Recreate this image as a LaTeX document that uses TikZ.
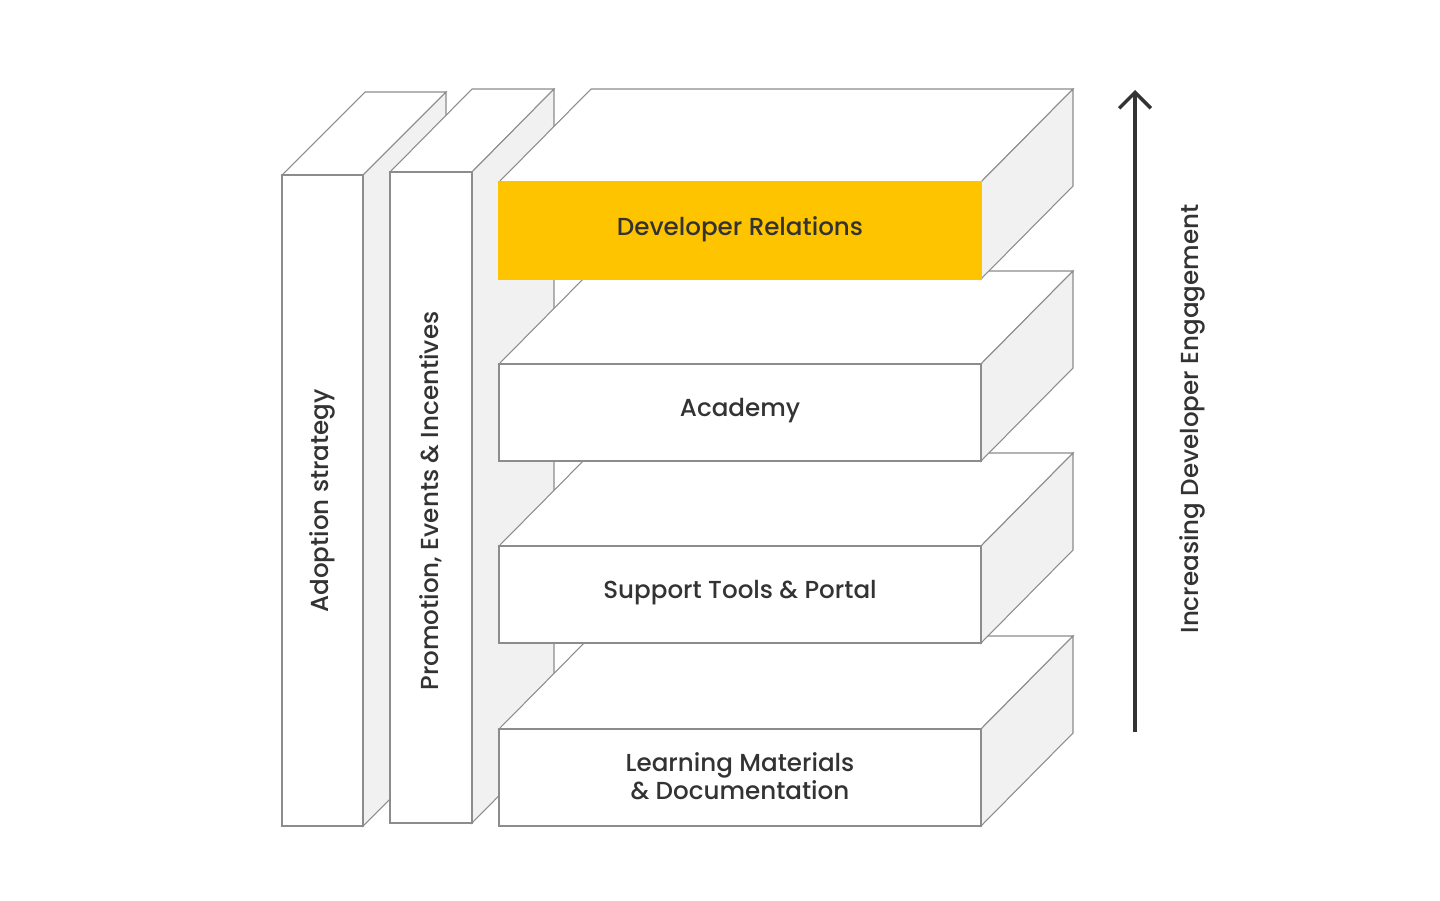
\documentclass[tikz,border=0pt]{standalone}
\usepackage{fontspec}
\setmainfont{Poppins Medium}
\usetikzlibrary{arrows.meta}
\definecolor{edgegray}{HTML}{8C8C8C}
\definecolor{sidegray}{HTML}{F1F1F1}
\definecolor{devyellow}{HTML}{FFC400}
\definecolor{inkdark}{HTML}{333333}
\tikzset{
  edge/.style={draw=edgegray, line width=0.6pt, line join=miter},
  label/.style={text=inkdark, font=\fontsize{14}{16}\selectfont, align=center},
}

\begin{document}
\begin{tikzpicture}[x=0.02cm, y=-0.02cm]
\useasboundingbox (0,0) rectangle (1440,900);

% two pillars on the left
\foreach \xa/\xb/\ya/\yb/\d/\name/\txt in {282/363/175/826/83/adopt/Adoption strategy,
    390/472/172/823/82/promo/{Promotion, Events \& Incentives}} {
    \path[edge, fill=white] (\xa,\ya) -- (\xa+\d,\ya-83) -- (\xb+\d,\ya-83) -- (\xb,\ya) -- cycle;
    \path[edge, fill=sidegray] (\xb,\ya) -- (\xb+\d,\ya-83) -- (\xb+\d,\yb-83) -- (\xb,\yb) -- cycle;
    \path[edge, fill=white] (\xa,\ya) rectangle (\xb,\yb);
    \node[label, rotate=90] (\name) at ({(\xa+\xb)/2},501) {\txt};
}

% stacked layers, bottom first
\foreach \t/\fillc/\drawc/\name/\txt in {729/white/edgegray/learn/{Learning Materials\\\& Documentation},
    546/white/edgegray/support/{Support Tools \& Portal},
    364/white/edgegray/academy/Academy,
    182/devyellow/devyellow/devrel/Developer Relations} {
    \path[edge, fill=white] (499,\t) -- (591,\t-93) -- (1073,\t-93) -- (981,\t) -- cycle;
    \path[edge, fill=sidegray] (981,\t) -- (1073,\t-93) -- (1073,\t+4) -- (981,\t+97) -- cycle;
    \path[edge, draw=\drawc, fill=\fillc] (499,\t) rectangle (981,\t+97);
    \node[label] (\name) at (740,\t+47) {\txt};
}

% engagement arrow
\coordinate (arrbot) at (1135,732);
\coordinate (arrtop) at (1135,90);
\draw[inkdark, line width=2pt, -{Straight Barb[length=9pt,width=18pt]}] (arrbot) -- (arrtop);
\node[label, rotate=90] (engage) at (1192,419) {Increasing Developer Engagement};
\end{tikzpicture}
\end{document}
